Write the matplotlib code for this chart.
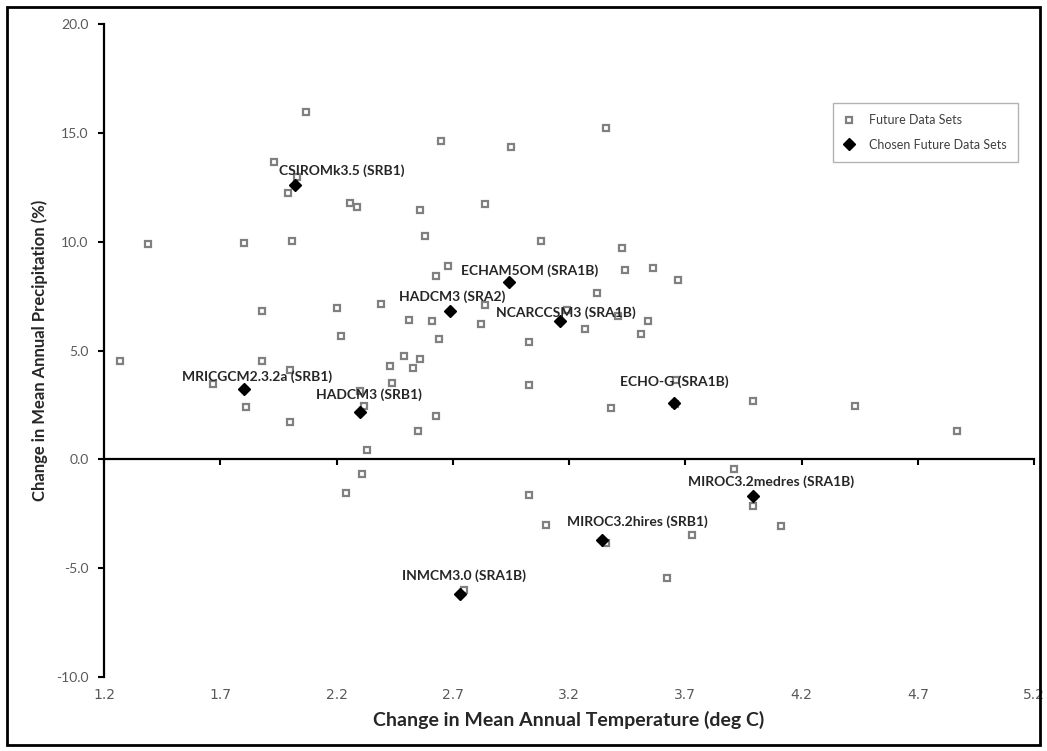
import matplotlib
matplotlib.use('Agg')
import matplotlib.pyplot as plt
from matplotlib.patches import Rectangle
import numpy as np

plt.rcParams['axes.unicode_minus'] = False
plt.rcParams['font.family'] = ['Lato', 'DejaVu Sans']

# all future data sets (temperature change, precipitation change)
futTemp = [2.07, 1.93, 2.03, 1.99, 2.26, 2.29, 1.39, 1.80, 2.01, 2.65,
           2.95, 3.36, 2.56, 2.84, 2.58, 3.08, 3.43, 2.68, 2.63, 3.44,
           3.56, 3.67, 3.32, 2.39, 2.84, 3.19, 3.41, 3.54, 3.51, 3.27,
           2.51, 2.61, 2.82, 2.64, 3.03, 2.49, 2.56, 2.43, 2.53, 2.44,
           3.03, 3.66, 3.655, 3.38, 2.63, 2.55, 3.99, 4.43, 4.87, 3.91,
           1.88, 2.20, 2.22, 1.27, 1.88, 2.00, 1.67, 1.81, 2.30, 2.32,
           2.00, 2.33, 2.31, 2.24, 3.03, 3.10, 3.36, 2.75, 3.99, 4.11,
           3.73, 3.62]
futPrecip = [15.95, 13.67, 12.95, 12.25, 11.76, 11.57, 9.90, 9.95, 10.05, 14.62,
             14.36, 15.20, 11.46, 11.71, 10.28, 10.01, 9.73, 8.90, 8.41, 8.72,
             8.80, 8.23, 7.66, 7.13, 7.07, 6.85, 6.57, 6.34, 5.78, 5.99,
             6.39, 6.36, 6.22, 5.52, 5.38, 4.75, 4.63, 4.31, 4.18, 3.49,
             3.42, 3.63, 2.55, 2.36, 1.99, 1.29, 2.68, 2.45, 1.30, -0.43,
             6.80, 6.96, 5.67, 4.52, 4.52, 4.09, 3.48, 2.39, 3.14, 2.44,
             1.72, 0.45, -0.69, -1.53, -1.66, -3.00, -3.83, -6.02, -2.15, -3.07,
             -3.49, -5.47]

# chosen data sets
chosenNames = ['CSIROMk3.5 (SRB1)', 'ECHAM5OM (SRA1B)', 'HADCM3 (SRA2)',
               'NCARCCSM3 (SRA1B)', 'MRICGCM2.3.2a (SRB1)', 'HADCM3 (SRB1)',
               'ECHO-G (SRA1B)', 'MIROC3.2medres (SRA1B)', 'MIROC3.2hires (SRB1)',
               'INMCM3.0 (SRA1B)']
chosenTemp = [2.02, 2.94, 2.69, 3.16, 1.80, 2.30, 3.65, 3.99, 3.34, 2.73]
chosenPrecip = [12.60, 8.14, 6.82, 6.34, 3.22, 2.18, 2.61, -1.70, -3.72, -6.17]

# label offsets from the marker, in pixels
labelOffsets = [(47, 14), (21, 11), (2, 14), (6, 9), (14, 13), (9, 17),
                (1, 21), (18, 15), (36, 19), (4, 18)]

xTicks = [1.2, 1.7, 2.2, 2.7, 3.2, 3.7, 4.2, 4.7, 5.2]
yTicks = [-10.0, -5.0, 0.0, 5.0, 10.0, 15.0, 20.0]

W, H = 1047, 751
fig = plt.figure(figsize=(W / 100, H / 100), dpi=100)
ax = fig.add_axes([104 / W, (H - 677) / H, 930 / W, 653 / H])

ax.plot(futTemp, futPrecip, 's', ms=5, mfc='white', mec='#808080', mew=1.6,
        ls='none', label='Future Data Sets')
ax.plot(chosenTemp, chosenPrecip, 'D', ms=6.5, color='black',
        ls='none', label='Chosen Future Data Sets')

for name, tx, py, off in zip(chosenNames, chosenTemp, chosenPrecip, labelOffsets):
    ax.annotate(name, xy=(tx, py), xytext=off, textcoords='offset pixels',
                ha='center', va='center', fontsize=10, fontweight='bold',
                color='#262626')

ax.set_xlim(1.2, 5.2)
ax.set_ylim(-10, 20)

for s in ['top', 'right']:
    ax.spines[s].set_visible(False)
ax.spines['bottom'].set_position(('data', 0))
ax.spines['bottom'].set_linewidth(1.6)
ax.spines['left'].set_linewidth(1.6)

ax.set_xticks(xTicks)
ax.tick_params(axis='x', direction='out', length=4, width=1.5, labelbottom=False)
ax.set_yticks(yTicks)
ax.set_yticklabels(['%.1f' % v for v in yTicks])
ax.tick_params(axis='y', direction='out', length=4, width=1.5,
               labelsize=10, labelcolor='#595959', pad=7)
ax.set_ylabel('Change in Mean Annual Precipitation (%)', fontsize=12,
              fontweight='bold', color='#262626', labelpad=6)

sec = ax.secondary_xaxis('bottom')
sec.set_xticks(xTicks)
sec.set_xticklabels(['%.1f' % v for v in xTicks],
                    family=['Liberation Sans Narrow', 'DejaVu Sans'])
sec.tick_params(length=0, labelsize=10, labelcolor='#595959', pad=8)
sec.spines['bottom'].set_visible(False)
sec.set_xlabel('Change in Mean Annual Temperature (deg C)', fontsize=14,
               fontweight='bold', color='#262626', labelpad=6)

leg = ax.legend(loc='upper right', bbox_to_anchor=(0.983, 0.879), fontsize=9,
                frameon=True, fancybox=False, edgecolor='#a0a0a0',
                borderpad=0.9, labelspacing=1.0, handlelength=0.8,
                handletextpad=1.2, borderaxespad=0)
for t in leg.get_texts():
    t.set_color('#404040')

fig.patches.append(Rectangle((7 / W, 6 / H), 1033 / W, 738 / H,
                             transform=fig.transFigure, fill=False,
                             edgecolor='black', linewidth=2))

fig.savefig('out.png', dpi=100)
